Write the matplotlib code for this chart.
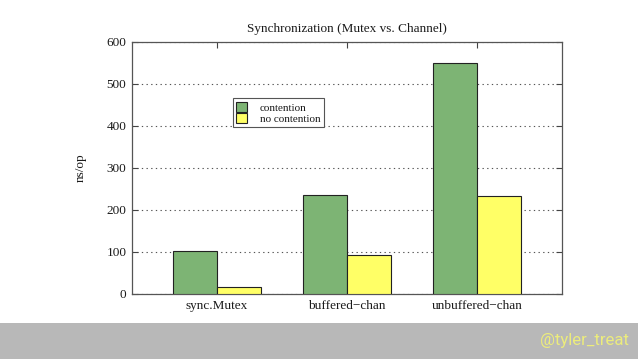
import matplotlib
matplotlib.use("Agg")
import matplotlib.pyplot as plt
import numpy as np

categories = ["sync.Mutex", "buffered\u2212chan", "unbuffered\u2212chan"]
contention = [103, 236, 549]
no_contention = [17, 92, 233]
yticks = [0, 100, 200, 300, 400, 500, 600]

plt.rcParams['font.family'] = ['Liberation Serif', 'DejaVu Serif']

fig = plt.figure(figsize=(6.38, 3.59), dpi=100)
ax = fig.add_axes([132/638, 1-294/359, 430/638, 252/359])

x = np.arange(len(categories))
w = 0.338
ax.bar(x - w/2, contention, w, color='#7db474', edgecolor='#222222', linewidth=0.8, label='contention', zorder=3)
ax.bar(x + w/2, no_contention, w, color='#ffff66', edgecolor='#222222', linewidth=0.8, label='no contention', zorder=3)

ax.set_xlim(-0.654, 2.654)
ax.set_ylim(0, 600)
ax.set_yticks(yticks)
ax.set_xticks(x)
ax.set_xticklabels(categories)
ax.tick_params(axis='both', direction='in', labelsize=9.5, length=4, colors='#444444', labelcolor='#1a1a1a')
ax.tick_params(axis='x', top=True, bottom=False, pad=4)
ax.tick_params(axis='y', right=True, pad=4)
ax.yaxis.grid(True, linestyle=(0, (1.2, 3)), color='#555555', linewidth=0.8)
ax.set_axisbelow(True)
for s in ax.spines.values():
    s.set_color('#555555')
    s.set_linewidth(0.9)

ax.set_ylabel('ns/op', fontsize=9.5, labelpad=14, color='#1a1a1a')
ax.set_title('Synchronization (Mutex vs. Channel)', fontsize=9.5, pad=7, color='#1a1a1a')

leg = ax.legend(loc='upper left', bbox_to_anchor=(0.235, 0.776), fontsize=8,
                frameon=True, fancybox=False, edgecolor='#555555', framealpha=1,
                handlelength=1.0, handleheight=1.0, borderpad=0.3, labelspacing=0.05,
                handletextpad=1.1, borderaxespad=0)
leg.get_frame().set_linewidth(0.8)
for t in leg.get_texts():
    t.set_color('#1a1a1a')

# bottom gray band
band = fig.add_axes([0, 0, 1, 36/359])
band.set_facecolor('#b8b8b8')
band.set_xticks([]); band.set_yticks([])
for s in band.spines.values():
    s.set_visible(False)
band.text(0.986, 0.5, '@tyler_treat', transform=band.transAxes, ha='right', va='center',
          color='#ecec7c', fontsize=12, family=['Roboto', 'DejaVu Sans'])

fig.savefig('out.png', dpi=100)
